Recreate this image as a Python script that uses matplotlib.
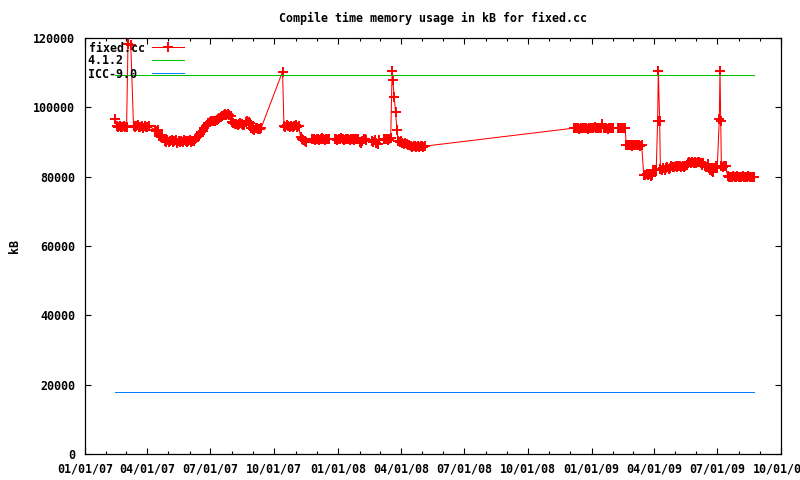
import matplotlib
matplotlib.use("Agg")
import matplotlib.pyplot as plt
import matplotlib.dates as mdates
import numpy as np
import pandas as pd

# ---- data (values in kB) ----
# fixed.cc: segments of (start date, step in days, values in thousands of kB)
fixed_segments = [
    ("2007-02-13", 2, [96.5]),
    ("2007-02-16", 2, [94.5, 94.3, 94.6, 94.2, 94.4, 94.5, 94.3, 94.4]),
    ("2007-03-04", 4, [118.3, 118.0]),
    ("2007-03-12", 2, [94.6, 94.2, 94.5, 94.8, 94.3, 94.4, 94.6, 94.1, 94.5, 94.3, 94.4, 94.5]),
    ("2007-04-12", 2, [93.6, 93.2, 93.4, 91.8, 91.5, 92.0]),
    ("2007-04-26", 2, [90.4, 90.1, 90.6, 89.9, 90.3, 90.5, 90.0, 90.2, 90.6, 89.8, 90.3, 90.1,
                       90.4, 90.0, 90.5, 90.2, 89.9, 90.3, 90.6, 90.1, 90.4, 90.2]),
    ("2007-06-08", 2, [90.8, 91.2, 91.5, 91.8, 92.3, 92.8, 93.2, 93.9, 94.5, 95.0, 95.5, 95.8, 96.0]),
    ("2007-07-04", 2, [96.0, 96.2, 96.1, 96.3, 96.5, 97.0, 97.3, 97.6, 97.8, 98.0, 97.9, 98.1, 97.8, 97.5]),
    ("2007-08-01", 2, [95.8, 95.5, 95.3, 95.2, 94.8, 95.2, 95.5, 95.3, 94.9, 95.0, 95.9, 96.2, 95.8, 95.5]),
    ("2007-08-29", 2, [94.0, 93.8, 93.6, 93.9, 94.1, 93.7, 93.8, 94.0]),
    ("2007-10-13", 2, [110.3]),
    ("2007-10-15", 2, [94.5, 94.3, 94.8, 94.6, 94.2, 94.7]),
    ("2007-10-28", 2, [94.4, 94.5, 94.8, 94.3, 94.6]),
    ("2007-11-08", 2, [91.5, 91.0, 90.5, 90.2, 90.0]),
    ("2007-11-25", 2, [90.8, 90.9, 90.7, 91.0, 90.8, 90.6, 90.9, 91.1, 90.8, 90.7, 90.9, 91.0, 90.8]),
    ("2007-12-27", 2, [90.8, 91.0, 90.7, 90.9, 90.8, 91.1, 90.8, 90.7, 90.9, 91.0, 90.8, 90.6]),
    ("2008-01-20", 2, [90.9, 90.8, 90.7, 90.9, 91.0, 90.8, 90.0, 89.8, 90.2, 90.8, 90.9, 90.7]),
    ("2008-02-19", 2, [90.3, 90.0, 90.6, 89.6, 89.4, 90.5]),
    ("2008-03-07", 2, [90.9, 91.0, 90.8, 90.6, 90.9, 91.1]),
    ("2008-03-19", 1, [110.5, 107.9]),
    ("2008-03-22", 2, [103.0, 98.6, 93.5]),
    ("2008-03-28", 2, [90.3, 90.0, 90.2, 89.7, 89.5, 89.8, 89.4, 89.2, 89.0, 88.8, 88.7, 88.8,
                       88.9, 88.6, 88.8, 88.7, 88.9, 88.8, 88.7, 88.8]),
    ("2008-12-06", 2, [94.0, 93.9, 94.1, 94.0, 93.8, 94.0, 94.1, 93.9, 94.0, 94.1, 93.8, 94.0,
                       94.1, 93.9, 94.0, 94.2, 94.0, 93.9]),
    ("2009-01-12", 2, [94.1, 94.0, 95.2, 93.9, 94.1, 94.0, 93.8, 94.0, 94.1, 93.9, 94.0]),
    ("2009-02-08", 2, [94.1, 94.0, 93.9, 94.0, 94.1, 94.0]),
    ("2009-02-20", 2, [89.1, 89.0, 89.2, 89.1, 88.9, 89.0, 89.1, 89.2, 89.0, 89.1, 88.9, 89.0]),
    ("2009-03-17", 2, [80.6, 80.4, 80.8, 80.5, 80.7, 80.3, 80.6]),
    ("2009-03-31", 2, [81.8, 82.0, 81.9]),
    ("2009-04-06", 1, [96.0, 110.5]),
    ("2009-04-09", 1, [96.0]),
    ("2009-04-10", 2, [82.2, 81.9, 82.5, 82.0, 82.4, 82.8, 82.3, 82.6, 83.0, 82.7, 82.9, 83.0,
                       82.8, 83.1, 83.0, 82.9, 83.2, 82.9, 83.0, 83.4, 84.0, 84.2, 83.8,
                       84.1, 84.0, 84.2, 83.9, 84.1, 84.2, 83.9, 83.5, 84.0, 83.2, 82.8,
                       83.6, 82.5, 82.0, 81.6, 81.3, 82.4, 83.0, 82.6]),
    ("2009-07-04", 1, [96.5, 110.5, 96.0]),
    ("2009-07-07", 2, [83.0, 82.8, 83.1, 83.0]),
    ("2009-07-16", 2, [80.2, 79.9, 80.0, 79.8, 80.1, 79.9, 80.0, 80.2, 79.8, 80.0, 79.9, 80.1,
                       80.0, 79.8, 80.0, 80.1, 79.9, 80.0, 79.8, 80.0]),
]

ref_dates = ["2007-02-13", "2009-08-23"]
gcc412_values = [109300, 109300]
icc90_values = [17900, 17900]

series_labels = ["fixed.cc", "4.1.2   ", "ICC-9.0 "]
title = "Compile time memory usage in kB for fixed.cc"

# ---- build fixed.cc series ----
fx_dates = []
fx_vals = []
for start, step, vals in fixed_segments:
    s = pd.Timestamp(start)
    for i, v in enumerate(vals):
        fx_dates.append(s + pd.Timedelta(days=step * i))
        fx_vals.append(v * 1000)
fx_dates = pd.to_datetime(fx_dates)
ref_d = pd.to_datetime(ref_dates)

FS = 8.4
plt.rcParams['font.family'] = ['DejaVu Sans Mono']
plt.rcParams['font.size'] = FS
plt.rcParams['font.weight'] = 'bold'

fig = plt.figure(figsize=(8, 4.8), dpi=100)
ax = fig.add_axes([85 / 800, 1 - 454 / 480, (781 - 85) / 800, (454 - 38) / 480])

ax.plot(fx_dates, fx_vals, color='#ff0000', lw=0.75, marker='+', ms=7.5, mew=1.4,
        label=series_labels[0])
ax.plot(ref_d, gcc412_values, color='#00c000', lw=0.75, label=series_labels[1])
ax.plot(ref_d, icc90_values, color='#0080ff', lw=0.75, label=series_labels[2])

ax.set_xlim(pd.Timestamp("2007-01-01"), pd.Timestamp("2009-10-01"))
ax.set_ylim(0, 120000)
ax.set_yticks(np.arange(0, 120001, 20000))
ax.xaxis.set_major_locator(mdates.MonthLocator(bymonth=[1, 4, 7, 10]))
ax.xaxis.set_minor_locator(mdates.MonthLocator())
ax.xaxis.set_major_formatter(mdates.DateFormatter('%m/%d/%y'))

ax.tick_params(which='both', direction='in', top=True, right=True, labelsize=FS)
ax.tick_params(which='major', length=4.5, width=0.8)
ax.tick_params(which='minor', length=2.2, width=0.8)
ax.tick_params(axis='x', pad=6)
ax.tick_params(axis='y', pad=7)
for sp in ax.spines.values():
    sp.set_linewidth(0.9)

ax.set_title(title, fontsize=FS, fontweight='bold', pad=11.5)
ax.set_ylabel('kB', fontsize=FS, fontweight='bold', labelpad=9)

leg = ax.legend(loc='upper left', bbox_to_anchor=(0.0, 1.0), frameon=False,
                markerfirst=False, handlelength=2.8, handletextpad=0.6,
                labelspacing=0.0, borderaxespad=0.0, borderpad=0.3,
                prop={'family': 'DejaVu Sans Mono', 'size': FS, 'weight': 'bold'})
leg.set_zorder(10)

fig.savefig('out.png', dpi=100)
